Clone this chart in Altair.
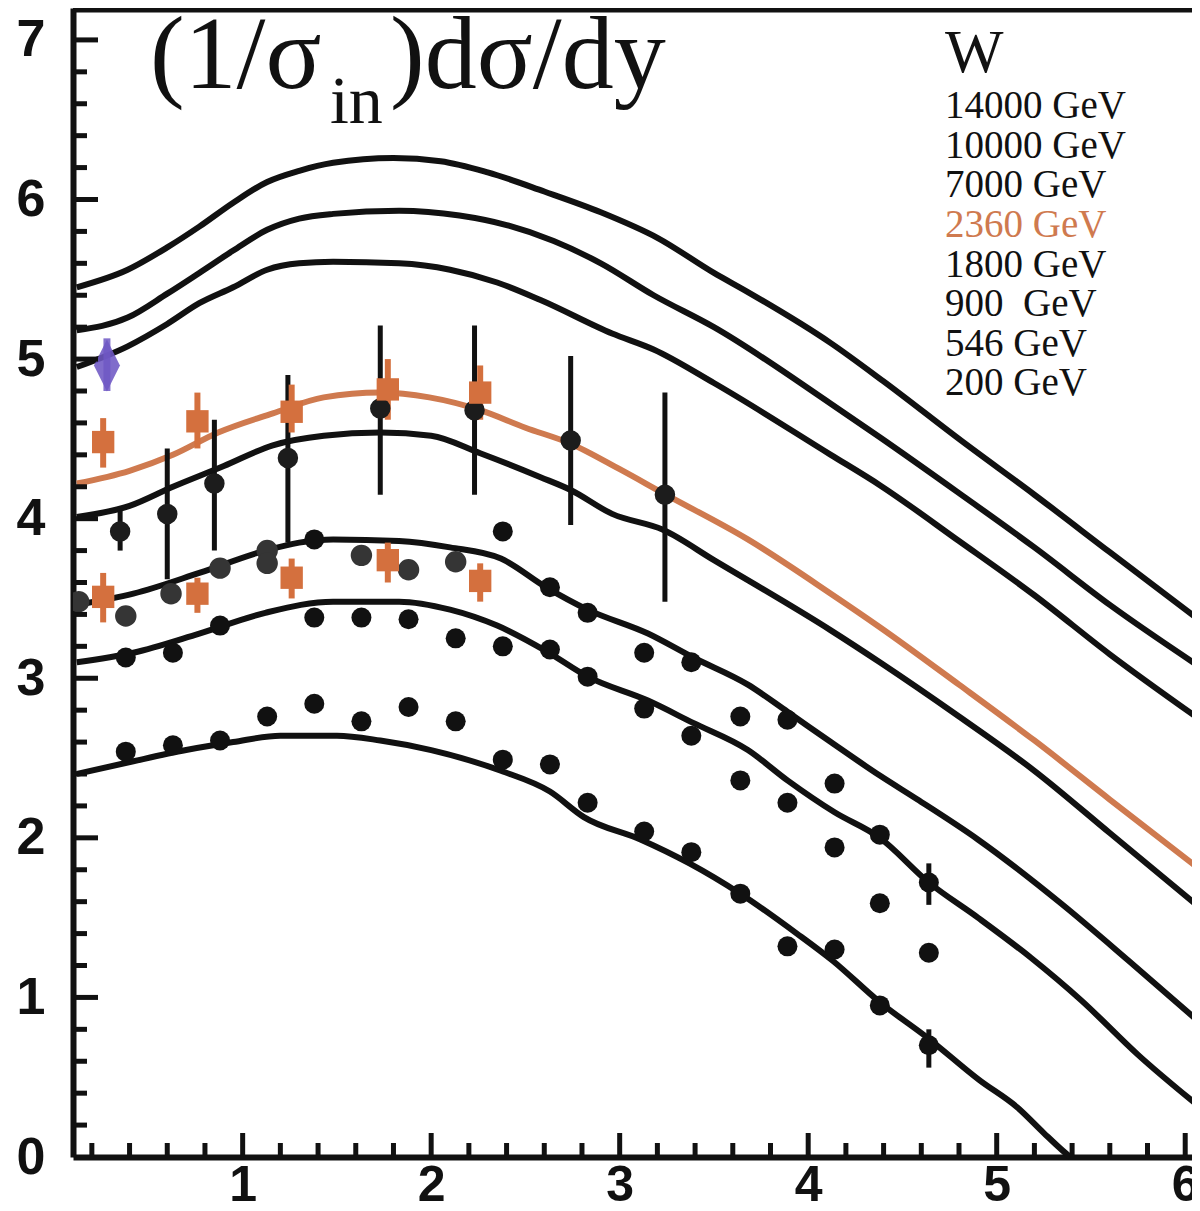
import altair as alt
import pandas as pd
import numpy as np

# ---------------- model curves ----------------
c14000_x = [0.12, 0.39, 0.60, 0.77, 0.95, 1.13, 1.30, 1.48, 1.80, 2.05, 2.30, 2.60, 2.90, 3.20, 3.50, 3.68, 4.12, 4.40, 4.81, 5.20, 5.60, 6.08]
c14000_y = [5.45, 5.56, 5.70, 5.83, 5.98, 6.11, 6.18, 6.23, 6.26, 6.24, 6.17, 6.05, 5.92, 5.76, 5.54, 5.42, 5.10, 4.86, 4.49, 4.15, 3.79, 3.36]
c10000_x = [0.12, 0.39, 0.60, 0.77, 0.95, 1.13, 1.30, 1.48, 1.83, 2.15, 2.40, 2.65, 2.90, 3.18, 3.50, 4.12, 4.38, 4.80, 5.20, 5.60, 6.08]
c10000_y = [5.18, 5.26, 5.41, 5.54, 5.68, 5.81, 5.88, 5.91, 5.93, 5.90, 5.84, 5.74, 5.60, 5.40, 5.20, 4.72, 4.51, 4.16, 3.82, 3.46, 3.07]
c7000_x = [0.12, 0.39, 0.60, 0.77, 0.95, 1.13, 1.30, 1.48, 1.83, 2.10, 2.35, 2.58, 2.96, 3.18, 3.50, 4.12, 4.38, 4.80, 5.20, 5.60, 6.08]
c7000_y = [4.95, 5.08, 5.22, 5.35, 5.45, 5.56, 5.60, 5.61, 5.60, 5.56, 5.48, 5.37, 5.16, 5.06, 4.85, 4.40, 4.21, 3.86, 3.52, 3.15, 2.74]
c2360_x = [0.12, 0.40, 0.63, 0.87, 1.16, 1.43, 1.73, 1.99, 2.26, 2.50, 2.74, 3.00, 3.23, 3.68, 4.12, 4.38, 4.80, 5.20, 5.60, 6.08]
c2360_y = [4.22, 4.30, 4.40, 4.54, 4.66, 4.76, 4.79, 4.76, 4.68, 4.57, 4.47, 4.31, 4.16, 3.87, 3.53, 3.32, 2.96, 2.61, 2.24, 1.80]
c1800_x = [0.12, 0.40, 0.63, 0.90, 1.16, 1.43, 1.73, 2.00, 2.26, 2.58, 2.74, 2.96, 3.23, 3.50, 4.12, 4.38, 4.80, 5.20, 5.60, 6.08]
c1800_y = [4.01, 4.08, 4.20, 4.33, 4.46, 4.52, 4.54, 4.52, 4.41, 4.26, 4.18, 4.03, 3.93, 3.74, 3.30, 3.10, 2.76, 2.42, 2.03, 1.56]
c900_x = [0.12, 0.42, 0.77, 1.12, 1.30, 1.48, 1.83, 2.10, 2.37, 2.61, 2.83, 3.15, 3.39, 3.68, 3.89, 4.12, 4.38, 4.58, 4.90, 5.34, 5.70, 6.08]
c900_y = [3.46, 3.53, 3.66, 3.80, 3.85, 3.87, 3.86, 3.82, 3.75, 3.57, 3.43, 3.28, 3.13, 2.96, 2.79, 2.60, 2.39, 2.24, 1.99, 1.59, 1.23, 0.84]
c546_x = [0.12, 0.42, 0.77, 1.12, 1.48, 1.83, 2.10, 2.35, 2.61, 2.83, 3.15, 3.39, 3.68, 3.89, 4.14, 4.38, 4.64, 4.90, 5.18, 5.45, 5.75, 6.08]
c546_y = [3.10, 3.16, 3.28, 3.41, 3.48, 3.48, 3.43, 3.33, 3.17, 3.01, 2.86, 2.72, 2.55, 2.36, 2.16, 2.00, 1.72, 1.50, 1.25, 0.98, 0.64, 0.31]
c200_x = [0.12, 0.42, 0.70, 0.95, 1.20, 1.50, 1.73, 2.00, 2.37, 2.63, 2.81, 3.11, 3.37, 3.64, 3.94, 4.13, 4.38, 4.63, 4.91, 5.11, 5.25, 5.35, 5.39]
c200_y = [2.40, 2.48, 2.55, 2.60, 2.64, 2.64, 2.61, 2.55, 2.42, 2.29, 2.13, 1.99, 1.84, 1.65, 1.40, 1.23, 0.97, 0.75, 0.48, 0.31, 0.15, 0.04, 0.00]

# ---------------- data points ----------------
d200_x = [0.38, 0.63, 0.88, 1.13, 1.38, 1.63, 1.88, 2.13, 2.38, 2.63, 2.83, 3.13, 3.38, 3.64, 3.89, 4.14, 4.38, 4.64]
d200_y = [2.54, 2.58, 2.61, 2.76, 2.84, 2.73, 2.82, 2.73, 2.49, 2.46, 2.22, 2.04, 1.91, 1.65, 1.32, 1.30, 0.95, 0.70]
d546_x = [0.38, 0.63, 0.88, 1.38, 1.63, 1.88, 2.13, 2.38, 2.63, 2.83, 3.13, 3.38, 3.64, 3.89, 4.14, 4.38, 4.64]
d546_y = [3.13, 3.16, 3.33, 3.38, 3.38, 3.37, 3.25, 3.20, 3.18, 3.01, 2.81, 2.64, 2.36, 2.22, 1.94, 1.59, 1.28]
d900_x = [1.38, 2.38, 2.63, 2.83, 3.13, 3.38, 3.64, 3.89, 4.14, 4.38, 4.64]
d900_y = [3.87, 3.92, 3.57, 3.41, 3.16, 3.10, 2.76, 2.74, 2.34, 2.02, 1.72]
small_err_x = [4.64, 4.64]
small_err_lo = [1.58, 0.56]
small_err_hi = [1.84, 0.80]

grey_x = [0.13, 0.38, 0.62, 0.88, 1.13, 1.13, 1.63, 1.88, 2.13]
grey_y = [3.48, 3.39, 3.53, 3.69, 3.80, 3.72, 3.77, 3.68, 3.73]

big_x = [0.35, 0.60, 0.85, 1.24, 1.73, 2.23, 2.74, 3.24]
big_y = [3.92, 4.03, 4.22, 4.38, 4.69, 4.68, 4.49, 4.15]
big_lo = [3.80, 3.62, 3.80, 3.85, 4.15, 4.15, 3.96, 3.48]
big_hi = [4.05, 4.44, 4.62, 4.90, 5.21, 5.21, 5.02, 4.79]

sq_hi_x = [0.26, 0.76, 1.26, 1.77, 2.26]
sq_hi_y = [4.48, 4.61, 4.67, 4.81, 4.79]
sq_hi_lo = [4.32, 4.44, 4.54, 4.62, 4.62]
sq_hi_hi = [4.63, 4.79, 4.84, 5.00, 4.96]
sq_lo_x = [0.26, 0.76, 1.26, 1.77, 2.26]
sq_lo_y = [3.51, 3.53, 3.63, 3.74, 3.61]
sq_lo_lo = [3.35, 3.41, 3.50, 3.60, 3.48]
sq_lo_hi = [3.66, 3.63, 3.75, 3.85, 3.72]

dia_x = [0.28]
dia_y = [4.96]
dia_lo = [4.80]
dia_hi = [5.13]

legend_labels = ["14000 GeV", "10000 GeV", "7000 GeV", "2360 GeV", "1800 GeV", "900 \u00a0GeV", "546 GeV", "200 GeV"]
x_tick_labels = [1, 2, 3, 4, 5, 6]
y_tick_labels = [0, 1, 2, 3, 4, 5, 6, 7]

# ---------------- styling ----------------
BLACK = "#111111"
ORANGE = "#d4703e"
ORANGE_LINE = "#cf7a4f"
PURPLE = "#6e58c4"
GREY = "#353535"
W, H = 1119, 1149
xs = alt.Scale(domain=[0.1, 6.036], nice=False, zero=False)
ys = alt.Scale(domain=[0, 7.2], nice=False, zero=False)

xaxis = alt.Axis(values=x_tick_labels, format="d", labelFont="Liberation Sans", labelFontWeight="bold",
                 labelFontSize=50, labelColor=BLACK, labelPadding=3, ticks=False, tickSize=0,
                 domainColor=BLACK, domainWidth=6, grid=False, title=None, labelFlush=False,
                 labelOverlap=False)
yaxis = alt.Axis(values=y_tick_labels, format="d", labelFont="Liberation Sans", labelFontWeight="bold",
                 labelFontSize=52, labelColor=BLACK, labelPadding=28, ticks=False, tickSize=0,
                 domainColor=BLACK, domainWidth=6, grid=False, title=None, labelFlush=False,
                 labelOverlap=False)


def X(f):
    return alt.X(f, type="quantitative", scale=xs, axis=xaxis, title=None)


def Y(f):
    return alt.Y(f, type="quantitative", scale=ys, axis=yaxis, title=None)


# curves dataframe
curve_defs = [("14000", c14000_x, c14000_y), ("10000", c10000_x, c10000_y), ("7000", c7000_x, c7000_y),
              ("1800", c1800_x, c1800_y), ("900", c900_x, c900_y), ("546", c546_x, c546_y),
              ("200", c200_x, c200_y)]
black_curves = pd.concat([pd.DataFrame({"E": e, "x": xx, "y": yy}) for e, xx, yy in curve_defs])
orange_curve = pd.DataFrame({"x": c2360_x, "y": c2360_y})

lines_black = alt.Chart(black_curves).mark_line(color=BLACK, strokeWidth=6, interpolate="monotone").encode(
    x=X("x"), y=Y("y"), detail="E:N")
line_orange = alt.Chart(orange_curve).mark_line(color=ORANGE_LINE, strokeWidth=6, interpolate="monotone").encode(
    x=X("x"), y=Y("y"))

# error bars
big_df = pd.DataFrame({"x": big_x, "y": big_y, "lo": big_lo, "hi": big_hi})
small_df = pd.DataFrame({"x": small_err_x, "lo": small_err_lo, "hi": small_err_hi})
sqh_df = pd.DataFrame({"x": sq_hi_x, "y": sq_hi_y, "lo": sq_hi_lo, "hi": sq_hi_hi})
sql_df = pd.DataFrame({"x": sq_lo_x, "y": sq_lo_y, "lo": sq_lo_lo, "hi": sq_lo_hi})
sq_df = pd.concat([sqh_df, sql_df])
dia_df = pd.DataFrame({"x": dia_x, "y": dia_y, "lo": dia_lo, "hi": dia_hi})

err_big = alt.Chart(big_df).mark_rule(color=BLACK, strokeWidth=5).encode(x=X("x"), y=Y("lo"), y2="hi")
err_small = alt.Chart(small_df).mark_rule(color=BLACK, strokeWidth=5).encode(x=X("x"), y=Y("lo"), y2="hi")
err_sq = alt.Chart(sq_df).mark_rule(color=ORANGE, strokeWidth=6).encode(x=X("x"), y=Y("lo"), y2="hi")
err_dia = alt.Chart(dia_df).mark_rule(color=PURPLE, strokeWidth=7, opacity=0.85).encode(x=X("x"), y=Y("lo"), y2="hi")

# points
black_pts = pd.concat([pd.DataFrame({"x": d200_x, "y": d200_y}), pd.DataFrame({"x": d546_x, "y": d546_y}),
                       pd.DataFrame({"x": d900_x, "y": d900_y})])
pts_black = alt.Chart(black_pts).mark_circle(color=BLACK, size=400, opacity=1).encode(x=X("x"), y=Y("y"))
pts_grey = alt.Chart(pd.DataFrame({"x": grey_x, "y": grey_y})).mark_circle(
    color=GREY, size=460, opacity=1, clip=True).encode(x=X("x"), y=Y("y"))
pts_big = alt.Chart(big_df).mark_circle(color="#1c1c1c", size=420, opacity=1).encode(x=X("x"), y=Y("y"))
pts_sq = alt.Chart(sq_df).mark_square(color=ORANGE, size=500, opacity=1).encode(x=X("x"), y=Y("y"))
pts_dia = alt.Chart(dia_df).mark_point(shape="M0,-1L0.5,0L0,1L-0.5,0Z", filled=True, color=PURPLE,
                                       size=2700, opacity=0.88).encode(x=X("x"), y=Y("y"))

# tick marks (inside)
ymaj = pd.DataFrame({"v": [1, 2, 3, 4, 5, 6, 7]})
ymin = pd.DataFrame({"v": [round(v, 1) for v in np.arange(0.2, 7.2, 0.2) if abs(v - round(v)) > 0.05]})
xmaj = pd.DataFrame({"v": x_tick_labels})
xmin = pd.DataFrame({"v": [round(v, 1) for v in np.arange(0.2, 6.01, 0.2) if abs(v - round(v)) > 0.05]})
t_ymaj = alt.Chart(ymaj).mark_rule(color=BLACK, strokeWidth=5).encode(y=Y("v"), x=alt.value(0), x2=alt.value(25))
t_ymin = alt.Chart(ymin).mark_rule(color=BLACK, strokeWidth=5).encode(y=Y("v"), x=alt.value(0), x2=alt.value(14))
t_xmaj = alt.Chart(xmaj).mark_rule(color=BLACK, strokeWidth=5).encode(x=X("v"), y=alt.value(H), y2=alt.value(H - 24))
t_xmin = alt.Chart(xmin).mark_rule(color=BLACK, strokeWidth=5).encode(x=X("v"), y=alt.value(H), y2=alt.value(H - 14))
top_border = alt.Chart(pd.DataFrame({"v": [7.2]})).mark_rule(color=BLACK, strokeWidth=9).encode(y=Y("v"))

# title text pieces
title_main = pd.DataFrame({"x": [0.508, 1.782], "y": [6.698, 6.698], "t": ["(1/\u03c3", ")d\u03c3/dy"]})
title_sub = pd.DataFrame({"x": [1.463], "y": [6.479], "t": ["in"]})
t_main = alt.Chart(title_main).mark_text(font="Liberation Serif", fontSize=104, align="left",
                                         baseline="alphabetic", color=BLACK).encode(x=X("x"), y=Y("y"), text="t:N")
t_sub = alt.Chart(title_sub).mark_text(font="Liberation Serif", fontSize=68, align="left",
                                       baseline="alphabetic", color=BLACK).encode(x=X("x"), y=Y("y"), text="t:N")

# legend text
step = 39.6 * 7.2 / H
leg = pd.DataFrame({
    "t": legend_labels,
    "x": [4.726] * len(legend_labels),
    "y": [6.510 - i * step for i in range(len(legend_labels))],
    "c": [ORANGE_LINE if lab.startswith("2360") else BLACK for lab in legend_labels],
})
leg_head = pd.DataFrame({"t": ["W"], "x": [4.726], "y": [6.798]})
t_leg = alt.Chart(leg).mark_text(font="Liberation Serif", fontSize=39, align="left", baseline="alphabetic").encode(
    x=X("x"), y=Y("y"), text="t:N", color=alt.Color("c:N", scale=None))
t_head = alt.Chart(leg_head).mark_text(font="Liberation Serif", fontSize=62, align="left", baseline="alphabetic",
                                       color=BLACK).encode(x=X("x"), y=Y("y"), text="t:N")

chart = alt.layer(
    lines_black, line_orange,
    err_big, err_small, err_sq, err_dia,
    pts_grey, pts_black, pts_big, pts_sq, pts_dia,
    t_ymaj, t_ymin, t_xmaj, t_xmin, top_border,
    t_main, t_sub, t_leg, t_head,
).properties(
    width=W, height=H,
    padding={"left": 65, "top": 0, "right": 0, "bottom": 54},
    autosize=alt.AutoSizeParams(type="none"),
).configure_view(stroke=None).configure(background="white")

chart.save("out.html", embed_options={"renderer": "svg", "actions": False})
